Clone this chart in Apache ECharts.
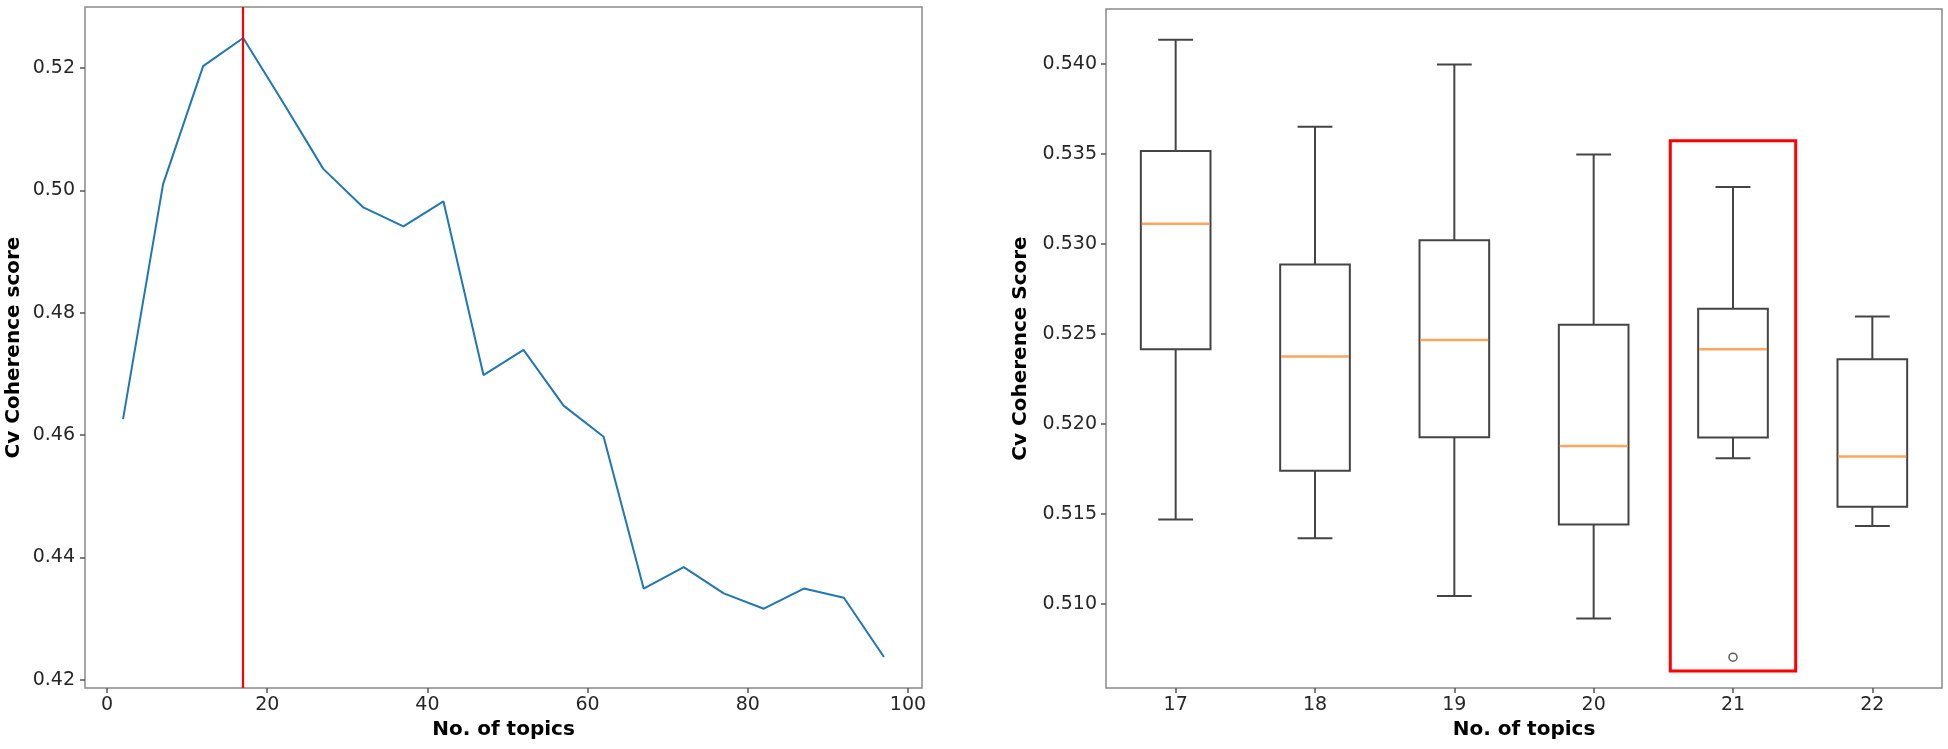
<!DOCTYPE html>
<html><head><meta charset="utf-8">
<script src="https://cdn.jsdelivr.net/npm/echarts@6/dist/echarts.min.js"></script>
<style>html,body{margin:0;padding:0;background:#fff}#c{width:1948px;height:749px}</style>
</head><body><div id="c"></div>
<script>
// ---- Left panel: coherence vs number of topics ----
const topics = [2,7,12,17,22,27,32,37,42,47,52,57,62,67,72,77,82,87,92,97];
const coherence = [0.4626,0.5010,0.5203,0.5249,0.5143,0.5035,0.4972,0.4941,0.4982,0.4698,0.4739,0.4648,0.4597,0.4349,0.4384,0.4341,0.4316,0.4349,0.4334,0.4237];
const bestTopics = 17;
const leftXTicks = [0,20,40,60,80,100];
const leftYTicks = [0.42,0.44,0.46,0.48,0.50,0.52];

// ---- Right panel: boxplots ----
const boxCategories = ['17','18','19','20','21','22'];
const boxLow    = [0.51471,0.51367,0.51046,0.50920,0.51811,0.51435];
const boxQ1     = [0.52417,0.51742,0.51928,0.51443,0.51926,0.51541];
const boxMedian = [0.53113,0.52376,0.52468,0.51879,0.52417,0.51820];
const boxQ3     = [0.53517,0.52887,0.53022,0.52552,0.52642,0.52361];
const boxHigh   = [0.54135,0.53653,0.53998,0.53498,0.53318,0.52598];
const outlierCategory = ['21'];
const outlierValue = [0.50706];
const rightYTicks = [0.510,0.515,0.520,0.525,0.530,0.535,0.540];
const highlightTopicRange = [20.55, 21.45];
const highlightScoreRange = [0.50629, 0.53574];

const FONT = 'DejaVu Sans';
const TICK_COLOR = '#262626';
const FRAME = '#8a8a8a';

function pad(lo, hi, f) { const r = hi - lo; return [lo - r*f, hi + r*f]; }
const lx = pad(Math.min(...topics), Math.max(...topics), 0.05);
const ly = pad(Math.min(...coherence), Math.max(...coherence), 0.05);
const allRight = boxLow.concat(boxHigh, outlierValue);
const ry = pad(Math.min(...allRight), Math.max(...allRight), 0.05);

const boxData = boxCategories.map((c, i) => [i, boxLow[i], boxQ1[i], boxMedian[i], boxQ3[i], boxHigh[i]]);
const outlierData = outlierCategory.map((c, i) => [boxCategories.indexOf(c), outlierValue[i]]);

const labelStyle = {fontFamily: FONT, fontSize: 19, color: TICK_COLOR};
const nameStyle = {fontFamily: FONT, fontSize: 20, fontWeight: 'bold', color: '#000'};
const tickStyle = {show: true, length: 5, lineStyle: {color: '#555', width: 1.5}};
const noLine = {show: false, onZero: false};

const chart = echarts.init(document.getElementById('c'), null, {renderer: 'canvas'});
chart.setOption({
  animation: false,
  backgroundColor: '#fff',
  grid: [
    {left: 85, top: 7, right: 1026, bottom: 61, show: true, borderColor: FRAME, borderWidth: 1.5, backgroundColor: 'transparent'},
    {left: 1106, top: 9, right: 6, bottom: 61, show: true, borderColor: FRAME, borderWidth: 1.5, backgroundColor: 'transparent'}
  ],
  xAxis: [
    {type: 'value', gridIndex: 0, min: lx[0], max: lx[1],
     name: 'No. of topics', nameLocation: 'middle', nameGap: 30, nameTextStyle: nameStyle,
     axisLine: noLine, splitLine: {show: false},
     axisTick: Object.assign({customValues: leftXTicks}, tickStyle),
     axisLabel: Object.assign({customValues: leftXTicks, margin: 8}, labelStyle)},
    {type: 'category', gridIndex: 1, data: boxCategories, boundaryGap: true,
     name: 'No. of topics', nameLocation: 'middle', nameGap: 30, nameTextStyle: nameStyle,
     axisLine: noLine, splitLine: {show: false},
     axisTick: Object.assign({alignWithLabel: true, interval: 0}, tickStyle),
     axisLabel: Object.assign({margin: 8, interval: 0}, labelStyle)},
    {type: 'value', gridIndex: 1, min: 16.5, max: 22.5, show: false}
  ],
  yAxis: [
    {type: 'value', gridIndex: 0, min: ly[0], max: ly[1],
     name: 'Cv Coherence score', nameLocation: 'middle', nameGap: 61, nameTextStyle: nameStyle,
     axisLine: noLine, splitLine: {show: false},
     axisTick: Object.assign({customValues: leftYTicks}, tickStyle),
     axisLabel: Object.assign({customValues: leftYTicks, margin: 10, formatter: v => v.toFixed(2)}, labelStyle)},
    {type: 'value', gridIndex: 1, min: ry[0], max: ry[1],
     name: 'Cv Coherence Score', nameLocation: 'middle', nameGap: 75, nameTextStyle: nameStyle,
     axisLine: noLine, splitLine: {show: false},
     axisTick: Object.assign({customValues: rightYTicks}, tickStyle),
     axisLabel: Object.assign({customValues: rightYTicks, margin: 9, formatter: v => v.toFixed(3)}, labelStyle)}
  ],
  series: [
    {type: 'line', xAxisIndex: 0, yAxisIndex: 0,
     data: topics.map((t, i) => [t, coherence[i]]),
     showSymbol: false, lineStyle: {color: '#1f77b4', width: 2}, itemStyle: {color: '#1f77b4'},
     markLine: {silent: true, symbol: 'none', label: {show: false},
       lineStyle: {color: '#ff0000', width: 2.2, type: 'solid'},
       data: [{xAxis: bestTopics}]}},
    {type: 'custom', xAxisIndex: 1, yAxisIndex: 1, data: boxData,
     encode: {x: 0, y: [1,2,3,4,5]},
     renderItem: function (params, api) {
       const idx = api.value(0);
       const pLow = api.coord([idx, api.value(1)]);
       const pQ1 = api.coord([idx, api.value(2)]);
       const pMed = api.coord([idx, api.value(3)]);
       const pQ3 = api.coord([idx, api.value(4)]);
       const pHigh = api.coord([idx, api.value(5)]);
       const band = api.size([1, 0])[0];
       const bw = band * 0.5, cw = bw * 0.5, x = pLow[0];
       const st = {stroke: '#444', lineWidth: 2, fill: null};
       return {type: 'group', children: [
         {type: 'line', shape: {x1: x, y1: pQ3[1], x2: x, y2: pHigh[1]}, style: st},
         {type: 'line', shape: {x1: x, y1: pQ1[1], x2: x, y2: pLow[1]}, style: st},
         {type: 'line', shape: {x1: x - cw/2, y1: pHigh[1], x2: x + cw/2, y2: pHigh[1]}, style: st},
         {type: 'line', shape: {x1: x - cw/2, y1: pLow[1], x2: x + cw/2, y2: pLow[1]}, style: st},
         {type: 'rect', shape: {x: x - bw/2, y: pQ3[1], width: bw, height: pQ1[1] - pQ3[1]}, style: {stroke: '#444', lineWidth: 2, fill: 'transparent'}},
         {type: 'line', shape: {x1: x - bw/2 + 1, y1: pMed[1], x2: x + bw/2 - 1, y2: pMed[1]}, style: {stroke: '#ffa55c', lineWidth: 2.5}}
       ]};
     }},
    {type: 'scatter', xAxisIndex: 1, yAxisIndex: 1, data: outlierData,
     symbol: 'circle', symbolSize: 8,
     itemStyle: {color: 'transparent', borderColor: '#333', borderWidth: 1.5}},
    {type: 'custom', xAxisIndex: 2, yAxisIndex: 1,
     data: [[highlightTopicRange[0], highlightScoreRange[0], highlightTopicRange[1], highlightScoreRange[1]]],
     encode: {x: [0, 2], y: [1, 3]},
     renderItem: function (params, api) {
       const a = api.coord([api.value(0), api.value(3)]);
       const b = api.coord([api.value(2), api.value(1)]);
       return {type: 'rect', shape: {x: a[0], y: a[1], width: b[0] - a[0], height: b[1] - a[1]},
               style: {stroke: '#ff0000', lineWidth: 3, fill: 'transparent'}};
     }}
  ]
});
</script></body></html>
